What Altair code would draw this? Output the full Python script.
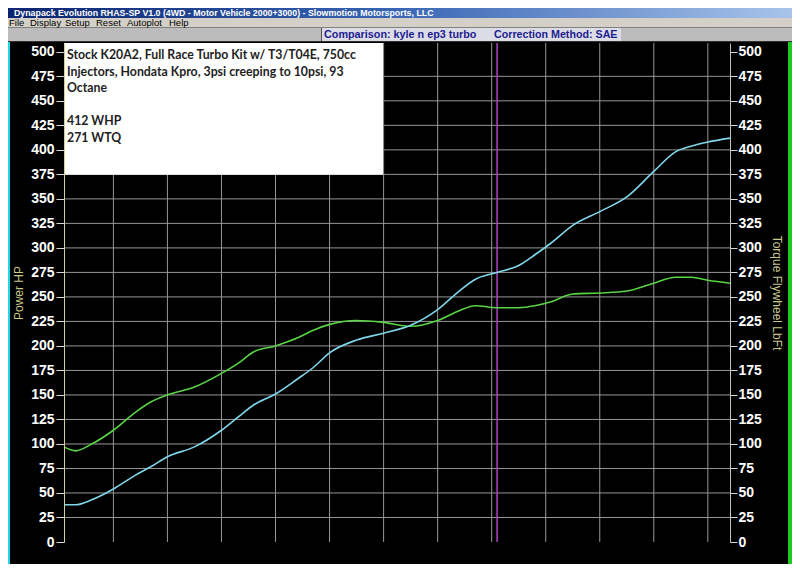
import altair as alt
import pandas as pd

# ---- data read from the dyno sheet ----
rpm = [2043, 2150, 2300, 2500, 2700, 2850, 3000, 3250, 3500, 3650, 3800, 4000,
       4200, 4350, 4500, 4750, 5000, 5250, 5500, 5700, 5850, 6050, 6250, 6400,
       6550, 6750, 7000, 7250, 7500, 7700, 7850, 8000, 8205]
power = [38, 38, 43, 54, 68, 77, 87, 97, 114, 127, 140, 151,
         166, 178, 193, 206, 213, 221, 237, 256, 268, 275, 282, 293,
         305, 323, 337, 352, 378, 398, 404, 408, 412]
torque = [97, 93, 100, 114, 132, 143, 150, 158, 172, 182, 194, 200,
          208, 216, 222, 226, 224, 220, 226, 236, 241, 239, 239, 241,
          245, 253, 254, 256, 264, 270, 270, 267, 264]

x_ticks = [2043, 2500, 3000, 3500, 4000, 4500, 5000, 5500, 6000, 6500, 7000, 7500, 8205]
x_grid = [2500, 3000, 3500, 4000, 4500, 5000, 5500, 6000, 6500, 7000, 7500, 8000]
y_ticks = list(range(0, 501, 25))
y_grid = list(range(25, 476, 25))
cursor_rpm = [6050]
x_domain = [2043, 8205]
y_domain = [0, 509]
note_box = [{"x": 2043, "x2": 4995, "y": 374.5, "y2": 509}]
note_lines_a = ["Stock K20A2, Full Race Turbo Kit w/ T3/T04E, 750cc",
                "Injectors, Hondata Kpro, 3psi creeping to 10psi, 93",
                "Octane"]
note_lines_b = ["412 WHP", "271 WTQ"]
title_text = "Dynapack Evolution RHAS-SP V1.0  (4WD - Motor Vehicle 2000+3000) - Slowmotion Motorsports, LLC"
menu_items = ["File", "Display", "Setup", "Reset", "Autoplot", "Help"]
status_1 = "Comparison: kyle n ep3 turbo"
status_2 = "Correction Method: SAE"

W, H = 666, 499
PL, PT, PR, PB = 56, 35, 62, 22

FONT = "Liberation Sans"
xs = alt.Scale(domain=x_domain, nice=False, zero=False)
ys = alt.Scale(domain=y_domain, nice=False, zero=False)

curves = pd.DataFrame({"rpm": rpm, "Power": power, "Torque": torque})
one = alt.Data(values=[{}])

x_axis = alt.Axis(values=x_ticks, format="d", grid=False, title=None,
                  domainColor="#c8c8c8", tickColor="#d8d8d8", tickSize=6,
                  labelColor="white", labelFont=FONT, labelFontSize=14,
                  labelFontWeight="bold", labelPadding=2, labelFlush=False,
                  labelOverlap=False, labelBound=False, zindex=1)
left_axis = alt.Axis(orient="left", values=y_ticks, grid=False, title="Power HP",
                     domainColor="#d0d098", tickColor="#d8d8d8", tickSize=8,
                     labelColor="white", labelFont=FONT, labelFontSize=14,
                     labelFontWeight="bold", labelPadding=2, labelOverlap=False,
                     titleColor="#c8c88c", titleFont=FONT, titleFontSize=12,
                     titleFontWeight="normal", titlePadding=5, zindex=1)
right_axis = alt.Axis(orient="right", values=y_ticks, grid=False,
                      title="Torque Flywheel LbFt",
                      domainColor="#c0c0c0", tickColor="#d8d8d8", tickSize=7,
                      labelColor="white", labelFont=FONT, labelFontSize=14,
                      labelFontWeight="bold", labelPadding=1, labelOverlap=False,
                      titleColor="#c8c88c", titleFont=FONT, titleFontSize=12,
                      titleFontWeight="normal", titlePadding=8, zindex=1)

hgrid = alt.Chart(pd.DataFrame({"v": y_grid})).mark_rule(
    color="#969696", strokeWidth=1).encode(y=alt.Y("v:Q", scale=ys, axis=None))
vgrid = alt.Chart(pd.DataFrame({"v": x_grid})).mark_rule(
    color="#969696", strokeWidth=1).encode(x=alt.X("v:Q", scale=xs, axis=None))
cursor = alt.Chart(pd.DataFrame({"v": cursor_rpm})).mark_rule(
    color="#b040c8", strokeWidth=1.5).encode(x=alt.X("v:Q", scale=xs, axis=None))

box = alt.Chart(pd.DataFrame(note_box)).mark_rect(color="white").encode(
    x=alt.X("x:Q", scale=xs, axis=None), x2="x2:Q",
    y=alt.Y("y:Q", scale=ys, axis=None), y2="y2:Q")


def note_block(lines, dy):
    return alt.Chart(pd.DataFrame([{"x": 2043, "y": 509, "t": "\n".join(lines)}])).mark_text(
        align="left", baseline="alphabetic", dx=3, dy=dy, lineBreak="\n", lineHeight=16.6,
        font="Lato", fontSize=12.3, fontWeight="bold", color="#1e1e1e").encode(
        x=alt.X("x:Q", scale=xs, axis=None), y=alt.Y("y:Q", scale=ys, axis=None), text="t:N")


note_a = note_block(note_lines_a, 16)
note_b = note_block(note_lines_b, 82)

torque_line = alt.Chart(curves).mark_line(
    color="#58d444", strokeWidth=1.6, interpolate="monotone").encode(
    x=alt.X("rpm:Q", scale=xs, axis=None),
    y=alt.Y("Torque:Q", scale=ys, axis=right_axis))
power_line = alt.Chart(curves).mark_line(
    color="#80d6ea", strokeWidth=1.6, interpolate="monotone").encode(
    x=alt.X("rpm:Q", scale=xs, axis=x_axis),
    y=alt.Y("Power:Q", scale=ys, axis=left_axis))

# ---- window chrome ----
def rect(x, x2, y, y2, color):
    return alt.Chart(one).mark_rect(color=color).encode(
        x=alt.value(x), x2=alt.value(x2), y=alt.value(y), y2=alt.value(y2))

def label(t, x, y, size, color, weight="normal", font=FONT):
    return alt.Chart(one).mark_text(
        text=t, align="left", baseline="middle", fontSize=size, font=font,
        fontWeight=weight, color=color).encode(x=alt.value(x), y=alt.value(y))

grad = alt.LinearGradient(gradient="linear",
                          stops=[alt.GradientStop(color="#0a2470", offset=0),
                                 alt.GradientStop(color="#3a66b4", offset=0.5),
                                 alt.GradientStop(color="#a8c4ea", offset=1)],
                          x1=0, x2=1, y1=0, y2=0)
left_edge, right_edge = -PL, W + PR
menu_x = [-55, -34, 1, 32, 63, 105]
chrome = [
    rect(left_edge, right_edge, -PT, -25, grad),
    rect(left_edge, right_edge, -25, -16, "#d4d0c8"),
    rect(left_edge, right_edge, -16, -1, "#bcbcbc"),
    rect(left_edge, right_edge, -16, -15, "#808080"),
    rect(258, 557, -15, -1, "#dcdce6"),
    rect(257, 258, -15, -1, "#505050"),
    rect(left_edge, right_edge, -2, -1, "#303030"),
    rect(left_edge, left_edge + 2, -1, H + PB, "#22d8e8"),
    rect(right_edge - 4, right_edge, -1, H + PB, "#22c822"),
    label(title_text, -50, -30, 8.8, "white", "bold"),
    label(status_1, 260, -8, 10.8, "#1c1c90", "bold"),
    label(status_2, 430, -8, 10.7, "#1c1c90", "bold"),
] + [label(m, mx, -20.5, 9.5, "black") for m, mx in zip(menu_items, menu_x)]

chart = alt.layer(hgrid, vgrid, cursor, box, note_a, note_b, torque_line, power_line,
                  *chrome).resolve_axis(y="independent").properties(
    width=W, height=H, background="black",
    padding={"left": PL, "top": PT, "right": PR, "bottom": PB},
    autosize=alt.AutoSizeParams(type="none")).configure_view(stroke=None)

chart.save("out.html", embed_options={"renderer": "svg", "actions": False})
